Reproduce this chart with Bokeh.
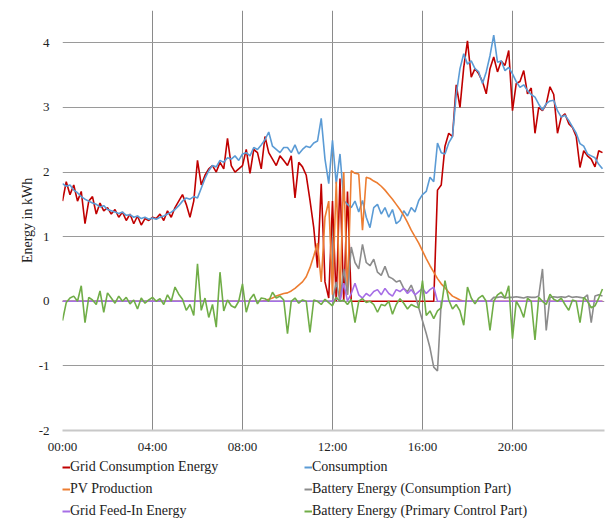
from bokeh.plotting import figure
from bokeh.layouts import column
from bokeh.models import Legend, LegendItem, FixedTicker, ColumnDataSource, Range1d
from bokeh.embed import file_html
from bokeh.resources import INLINE

# time in hours, 10-minute steps, 00:00 .. 24:00
hours = [i / 6 for i in range(145)]

consumption = [
    1.82, 1.78, 1.80, 1.72, 1.68, 1.62,
    1.58, 1.55, 1.52, 1.50, 1.46, 1.48,
    1.42, 1.40, 1.38, 1.36, 1.38, 1.33,
    1.34, 1.30, 1.32, 1.28, 1.30, 1.27,
    1.29, 1.27, 1.30, 1.32, 1.35, 1.38,
    1.42, 1.48, 1.55, 1.60, 1.58, 1.62,
    1.60, 1.75, 1.90, 2.02, 2.10, 2.08,
    2.18, 2.15, 2.22, 2.20, 2.25, 2.18,
    2.28, 2.30, 2.25, 2.38, 2.35, 2.42,
    2.50, 2.62, 2.40, 2.35, 2.30, 2.38,
    2.38, 2.30, 2.42, 2.28, 2.35, 2.40,
    2.38, 2.45, 2.48, 2.83, 2.20, 1.82,
    2.49, 1.82, 2.28, 1.56, 1.50, 1.45,
    1.55, 1.38, 1.56, 1.30, 1.14, 1.45,
    1.50, 1.35, 1.45, 1.30, 1.42, 1.20,
    1.25, 1.40, 1.32, 1.45, 1.38, 1.56,
    1.65, 1.70, 1.92, 1.85, 2.45, 2.30,
    2.28, 2.45, 2.55, 3.20, 3.60, 3.83,
    3.67, 3.72, 3.60, 3.55, 3.37, 3.55,
    3.80, 4.12, 3.70, 3.72, 3.57, 3.62,
    3.52, 3.40, 3.31, 3.35, 3.26, 3.20,
    3.16, 3.05, 2.96, 3.06, 3.10, 3.11,
    2.95, 2.85, 2.88, 2.80, 2.70, 2.60,
    2.44, 2.40, 2.28, 2.25, 2.22, 2.12,
    2.05,
]

grid_consumption = [
    1.55, 1.85, 1.65, 1.80, 1.55, 1.70,
    1.20, 1.55, 1.62, 1.35, 1.52, 1.40,
    1.45, 1.35, 1.42, 1.30, 1.38, 1.25,
    1.35, 1.20, 1.32, 1.18, 1.28, 1.25,
    1.30, 1.28, 1.35, 1.25, 1.40, 1.30,
    1.45, 1.55, 1.65, 1.50, 1.30, 1.55,
    2.18, 1.80, 1.95, 2.05, 2.10, 2.00,
    2.15, 2.05, 2.52, 2.10, 2.00, 2.05,
    2.10, 2.35, 1.98, 2.35, 2.30, 2.05,
    2.55, 2.30, 2.20, 2.10, 2.25, 2.18,
    2.10, 2.25, 1.60, 2.15, 2.08, 1.95,
    1.56, 1.14, 0.52, 1.82, 0.30, 0.05,
    1.55, 0.00, 1.90, 0.00, 1.70, 0.00,
    0.00, 0.00, 0.00, 0.00, 0.00, 0.00,
    0.00, 0.00, 0.00, 0.00, 0.00, 0.00,
    0.00, 0.00, 0.00, 0.00, 0.00, 0.00,
    0.00, 0.00, 0.00, 0.00, 1.72, 1.80,
    2.40, 2.60, 2.55, 3.35, 3.00, 3.62,
    4.03, 3.47, 3.60, 3.52, 3.40, 3.21,
    3.60, 3.78, 3.55, 3.72, 3.65, 3.88,
    2.95, 3.37, 3.40, 3.57, 3.21, 3.30,
    2.60, 3.00, 2.95, 3.05, 3.32, 3.20,
    2.60, 2.85, 2.90, 2.75, 2.69, 2.55,
    2.07, 2.33, 2.25, 2.20, 2.08, 2.33,
    2.30,
]

pv_production = [0.0] * 54 + [
    0.01, 0.03, 0.05, 0.08, 0.10, 0.12,
    0.13, 0.16, 0.20, 0.25, 0.30, 0.38,
    0.52, 0.70, 0.90, 0.30, 1.30, 1.55,
    0.10, 1.85, 0.05, 2.00, 0.10, 2.02,
    1.98, 1.97, 1.10, 1.92, 1.90, 1.86,
    1.83, 1.78, 1.72, 1.65, 1.58, 1.50,
    1.42, 1.33, 1.22, 1.10, 1.00, 0.90,
    0.78, 0.66, 0.55, 0.45, 0.35, 0.27,
    0.21, 0.14, 0.08, 0.05, 0.02, 0.00,
] + [0.0] * 37

battery_consumption = [0.0] * 72 + [
    0.00, 0.30, 0.00, 0.50, 0.10, 0.84,
    0.60, 0.50, 0.88, 0.60, 0.55, 0.65,
    0.45, 0.40, 0.54, 0.38, 0.35, 0.30,
    0.32, 0.20, 0.15, 0.25, 0.10, -0.10,
    -0.30, -0.50, -0.72, -1.02, -1.08, 0.00,
    0.00, 0.00, 0.00, 0.00, 0.00, 0.00,
    0.00, 0.00, 0.00, 0.00, 0.00, 0.00,
    0.00, 0.06, 0.06, 0.07, 0.05, 0.06,
    0.06, 0.07, 0.06, 0.05, 0.07, 0.06,
    0.06, 0.08, 0.50, -0.45, 0.06, 0.07,
    0.06, 0.07, 0.06, 0.08, 0.06, 0.07,
    0.06, 0.05, 0.10, -0.33, 0.08, 0.10,
    0.08,
]

grid_feed_in = [0.0] * 72 + [
    0.00, 0.05, 0.00, 0.28, 0.00, 0.12,
    0.28, 0.10, 0.05, 0.12, 0.08, 0.15,
    0.18, 0.10, 0.20, 0.12, 0.08, 0.18,
    0.15, 0.20, 0.12, 0.18, 0.10, 0.15,
    0.20, 0.12, 0.18, 0.22, 0.00, 0.00,
] + [0.0] * 43

battery_primary = [
    -0.30, -0.02, 0.05, 0.08, 0.00, 0.24,
    -0.33, 0.06, 0.02, -0.05, 0.16, -0.17,
    0.13, 0.05, -0.03, 0.08, 0.00, 0.06,
    -0.04, 0.02, -0.12, 0.05, -0.03, 0.02,
    0.06, 0.00, 0.04, -0.05, 0.10, 0.00,
    0.22, 0.11, 0.03, -0.14, -0.05, -0.22,
    0.58, -0.14, 0.05, -0.25, -0.05, -0.40,
    0.45, -0.15, 0.02, -0.07, -0.10, 0.00,
    0.27, -0.17, 0.03, 0.11, -0.04, 0.05,
    0.04, 0.00, 0.14, 0.05, 0.08, 0.02,
    -0.50, 0.00, 0.05, -0.03, 0.02, 0.00,
    -0.48, 0.02, 0.00, -0.05, 0.03, -0.02,
    -0.07, 0.06, 0.00, 0.02, -0.05, 0.03,
    -0.33, 0.00, 0.04, -0.02, 0.00, -0.05,
    -0.17, -0.05, -0.07, 0.00, -0.20, -0.05,
    0.04, -0.03, -0.12, -0.05, -0.08, -0.10,
    0.32, -0.22, -0.15, -0.27, -0.15, -0.10,
    0.32, 0.02, -0.12, -0.05, -0.15, -0.37,
    0.22, 0.05, -0.04, 0.05, 0.09, 0.00,
    -0.45, 0.00, 0.10, 0.14, 0.05, 0.24,
    -0.58, 0.00, -0.10, -0.25, 0.05, 0.00,
    -0.60, 0.06, 0.00, -0.05, 0.11, 0.03,
    0.00, 0.05, -0.05, -0.14, 0.02, 0.00,
    -0.33, 0.06, 0.00, -0.10, -0.07, 0.05,
    0.19,
]

x_ticks = [0, 4, 8, 12, 16, 20]
x_tick_labels = ["00:00", "04:00", "08:00", "12:00", "16:00", "20:00"]
y_ticks = [-2, -1, 0, 1, 2, 3, 4]
y_tick_labels = ["-2", "-1", "0", "1", "2", "3", "4"]

series = [
    ("Grid Consumption Energy", grid_consumption, "#c00000"),
    ("Consumption", consumption, "#5b9bd5"),
    ("PV Production", pv_production, "#ed7d31"),
    ("Battery Energy (Consumption Part)", battery_consumption, "#8c8c8c"),
    ("Grid Feed-In Energy", grid_feed_in, "#a66ee6"),
    ("Battery Energy (Primary Control Part)", battery_primary, "#70ad47"),
]
colors = {name: color for name, _, color in series}

FONT = "Liberation Serif"

p = figure(width=612, height=456, output_backend="svg", toolbar_location=None,
           x_range=(0, 24.09), y_range=(-2, 4.5),
           min_border_left=62, min_border_right=8, min_border_top=10,
           min_border_bottom=26)
p.outline_line_color = None
p.background_fill_color = "white"

src = ColumnDataSource(dict(x=hours, **{name: vals for name, vals, _ in series}))
for name, vals, color in series:
    p.line("x", name, source=src, line_color=color, line_width=1.6)

# axes
p.xaxis.ticker = FixedTicker(ticks=x_ticks)
p.xaxis.major_label_overrides = {t: l for t, l in zip(x_ticks, x_tick_labels)}
p.yaxis.ticker = FixedTicker(ticks=y_ticks)
p.yaxis.major_label_overrides = {t: l for t, l in zip(y_ticks, y_tick_labels)}
for ax in (p.xaxis[0], p.yaxis[0]):
    ax.major_tick_line_color = None
    ax.minor_tick_line_color = None
    ax.major_label_text_font = FONT
    ax.major_label_text_font_size = "13px"
    ax.major_label_text_color = "#222222"
p.xaxis.axis_line_color = "#c8c8c8"
p.xaxis.axis_line_width = 2
p.xaxis.major_label_standoff = 2
p.yaxis.axis_line_color = None
p.yaxis.major_label_standoff = 7
p.yaxis.axis_label = "Energy in kWh"
p.yaxis.axis_label_text_font = FONT
p.yaxis.axis_label_text_font_size = "14px"
p.yaxis.axis_label_text_font_style = "normal"
p.yaxis.axis_label_text_color = "#222222"
p.yaxis.axis_label_standoff = 1

p.xgrid.grid_line_color = "#8a8a8a"
p.xgrid.grid_line_width = 1
p.ygrid.grid_line_color = "#9a9a9a"
p.ygrid.grid_line_width = 1

# legend panel (column-major order: left column first); the series lines
# are drawn here from the same data but outside this panel's visible range
order = ["Grid Consumption Energy", "PV Production", "Grid Feed-In Energy",
         "Consumption", "Battery Energy (Consumption Part)",
         "Battery Energy (Primary Control Part)"]
p2 = figure(width=612, height=63, output_backend="svg", toolbar_location=None,
            x_range=Range1d(0, 1), y_range=Range1d(50, 51),
            x_axis_location=None, y_axis_location=None,
            min_border=0, min_border_left=0, min_border_right=0,
            min_border_top=0, min_border_bottom=0)
p2.outline_line_color = None
p2.grid.visible = False
items = []
for n in order:
    r = p2.line("x", n, source=src, line_color=colors[n], line_width=2)
    items.append(LegendItem(label=n, renderers=[r]))
legend = Legend(items=items, ncols=2, location=(0, 0),
                label_text_font=FONT, label_text_font_size="14px",
                label_text_color="#222222",
                glyph_width=8, glyph_height=14, label_standoff=0,
                label_width=228, label_height=14, spacing=6,
                padding=0, margin=0, border_line_color=None,
                background_fill_alpha=0)
p2.add_layout(legend, "center")

layout = column(p, p2, spacing=0)
open("out.html", "w").write(file_html(layout, INLINE))
